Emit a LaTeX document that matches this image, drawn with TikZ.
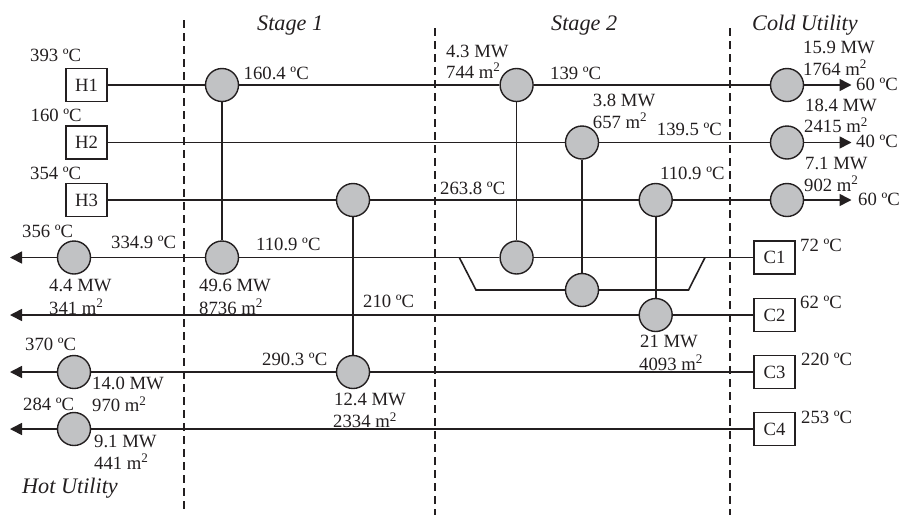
\documentclass[tikz,border=0pt]{standalone}
\usepackage{fontspec}
\setmainfont{Liberation Serif}
\usetikzlibrary{arrows.meta}
\definecolor{ink}{HTML}{231F20}
\definecolor{hxfill}{HTML}{C1C2C4}
\tikzset{
  hx/.style={circle,draw=ink,fill=hxfill,line width=1.4pt,minimum size=33pt,inner sep=0pt},
  unitbox/.style={rectangle,draw=ink,line width=1.4pt,minimum width=41pt,minimum height=33pt,inner sep=0pt,font=\fontsize{18.7}{20}\selectfont,text=ink},
  stream/.style={draw=ink,line width=1.6pt},
  outarrow/.style={stream,-{Triangle[length=12pt,width=12pt]}},
  stageline/.style={draw=ink,line width=2pt,dash pattern=on 7.5pt off 5.5pt},
  lab/.style={anchor=base west,inner sep=0pt,text=ink,font=\fontsize{18.7}{20}\selectfont},
  ital/.style={anchor=base west,inner sep=0pt,text=ink,font=\fontsize{22.2}{24}\selectfont\itshape}
}
\newcommand{\sq}{m\textsuperscript{2}}
\begin{document}
\begin{tikzpicture}[x=1pt,y=-1pt]
\useasboundingbox (0,0) rectangle (901,515);
% stage boundaries
\coordinate (d1a) at (183.5,20); \coordinate (d1b) at (183.5,512);
\coordinate (d2a) at (435,28);   \coordinate (d2b) at (435,515);
\coordinate (d3a) at (729.5,28); \coordinate (d3b) at (729.5,515);
\draw[stageline] (d1a) -- (d1b);
\draw[stageline] (d2a) -- (d2b);
\draw[stageline] (d3a) -- (d3b);
% stream boxes
\node[unitbox] (H1) at (86.5,85) {H1};
\node[unitbox] (H2) at (86.5,142.5) {H2};
\node[unitbox] (H3) at (86.5,200) {H3};
\node[unitbox] (C1) at (774.5,257.5) {C1};
\node[unitbox] (C2) at (774.5,315) {C2};
\node[unitbox] (C3) at (774.5,372) {C3};
\node[unitbox] (C4) at (774.5,429) {C4};
% exchangers
\node[hx] (a1) at (222,85) {};
\node[hx] (a2) at (516.6,85) {};
\node[hx] (a3) at (787,85) {};
\node[hx] (b1) at (582,142.5) {};
\node[hx] (b2) at (787,142.5) {};
\node[hx] (c1) at (353,200) {};
\node[hx] (c2) at (655.7,200) {};
\node[hx] (c3) at (787,200) {};
\node[hx] (d1) at (74,257.5) {};
\node[hx] (d2) at (222,257.5) {};
\node[hx] (d3) at (516.6,257.5) {};
\node[hx] (e1) at (582,290) {};
\node[hx] (f1) at (655.7,315) {};
\node[hx] (g1) at (74,372) {};
\node[hx] (g2) at (353,372) {};
\node[hx] (h1) at (74,429) {};
% free ends
\coordinate (t1) at (851.5,85);
\coordinate (t2) at (851.5,142.5);
\coordinate (t3) at (851.5,200);
\coordinate (t4) at (10,257.5);
\coordinate (t5) at (10,315);
\coordinate (t6) at (10,372);
\coordinate (t7) at (10,429);
\coordinate (p1) at (459.3,257.5);
\coordinate (p2) at (476,290);
\coordinate (p3) at (688.5,290);
\coordinate (p4) at (705,257.5);
% hot streams
\draw[stream] (H1) -- (a1);
\draw[stream] (a1) -- (a2);
\draw[stream] (a2) -- (a3);
\draw[outarrow] (a3) -- (t1);
\draw[stream] (H2) -- (b1);
\draw[stream] (b1) -- (b2);
\draw[outarrow] (b2) -- (t2);
\draw[stream] (H3) -- (c1);
\draw[stream] (c1) -- (c2);
\draw[stream] (c2) -- (c3);
\draw[outarrow] (c3) -- (t3);
% cold streams
\draw[stream] (C1) -- (d3);
\draw[stream] (d3) -- (d2);
\draw[stream] (d2) -- (d1);
\draw[outarrow] (d1) -- (t4);
\draw[stream] (C2) -- (f1);
\draw[outarrow] (f1) -- (t5);
\draw[stream] (C3) -- (g2);
\draw[stream] (g2) -- (g1);
\draw[outarrow] (g1) -- (t6);
\draw[stream] (C4) -- (h1);
\draw[outarrow] (h1) -- (t7);
% bypass
\draw[stream] (p1) -- (p2) -- (e1) -- (p3) -- (p4);
% matches
\draw[stream] (a1) -- (d2);
\draw[stream] (c1) -- (g2);
\draw[stream] (a2) -- (d3);
\draw[stream] (b1) -- (e1);
\draw[stream] (c2) -- (f1);
% headings
\node[ital] (s1) at (257,30) {Stage 1};
\node[ital] (s2) at (551,30) {Stage 2};
\node[ital] (s3) at (752,30) {Cold Utility};
\node[ital] (s4) at (22,493) {Hot Utility};
% labels
\node[lab] (l01) at (30,61.5) {393 ºC};
\node[lab] (l02) at (30.5,121.5) {160 ºC};
\node[lab] (l03) at (30,179) {354 ºC};
\node[lab] (l04) at (22,237) {356 ºC};
\node[lab] (l05) at (243.5,79) {160.4 ºC};
\node[lab] (l06) at (111,248.6) {334.9 ºC};
\node[lab] (l07) at (256,250) {110.9 ºC};
\node[lab] (l08) at (446,57) {4.3 MW};
\node[lab] (l09) at (446,78) {744 \sq};
\node[lab] (l10) at (550,79) {139 ºC};
\node[lab] (l11) at (592.7,106) {3.8 MW};
\node[lab] (l12) at (592.7,128) {657 \sq};
\node[lab] (l13) at (656.7,135) {139.5 ºC};
\node[lab] (l14) at (660,179) {110.9 ºC};
\node[lab] (l15) at (440,194) {263.8 ºC};
\node[lab] (l16) at (803,53) {15.9 MW};
\node[lab] (l17) at (803,75) {1764 \sq};
\node[lab] (l18) at (856,90) {60 ºC};
\node[lab] (l19) at (805,111) {18.4 MW};
\node[lab] (l20) at (804,132.7) {2415 \sq};
\node[lab] (l21) at (856,147) {40 ºC};
\node[lab] (l22) at (805,169) {7.1 MW};
\node[lab] (l23) at (804,191) {902 \sq};
\node[lab] (l24) at (858,205.7) {60 ºC};
\node[lab] (l25) at (800,251.7) {72 ºC};
\node[lab] (l26) at (800,308) {62 ºC};
\node[lab] (l27) at (801,365) {220 ºC};
\node[lab] (l28) at (801,423) {253 ºC};
\node[lab] (l29) at (640,347.7) {21 MW};
\node[lab] (l30) at (639,370) {4093 \sq};
\node[lab] (l31) at (49,291.7) {4.4 MW};
\node[lab] (l32) at (49,314) {341 \sq};
\node[lab] (l33) at (199,291.7) {49.6 MW};
\node[lab] (l34) at (199,314) {8736 \sq};
\node[lab] (l35) at (363,307.7) {210 ºC};
\node[lab] (l36) at (25,350) {370 ºC};
\node[lab] (l37) at (262,365) {290.3 ºC};
\node[lab] (l38) at (92,389) {14.0 MW};
\node[lab] (l39) at (92,411.7) {970 \sq};
\node[lab] (l40) at (23,410) {284 ºC};
\node[lab] (l41) at (334,405.7) {12.4 MW};
\node[lab] (l42) at (333,427.7) {2334 \sq};
\node[lab] (l43) at (94,447) {9.1 MW};
\node[lab] (l44) at (94,469) {441 \sq};
\end{tikzpicture}
\end{document}
